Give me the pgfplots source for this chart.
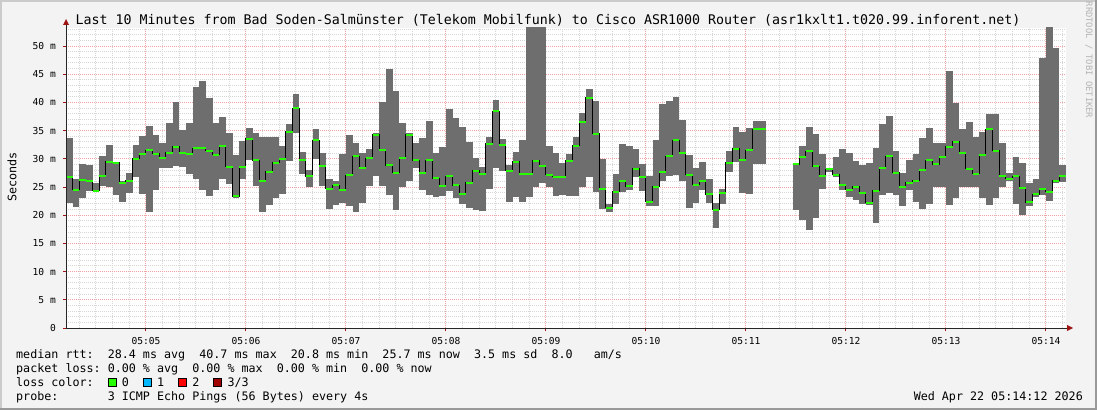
\documentclass[border=0pt]{standalone}
\usepackage{fontspec}
\setmainfont{DejaVu Sans Mono}
\setmonofont{DejaVu Sans Mono}
\usepackage{pgfplots}
\pgfplotsset{compat=1.18}
\usepackage{pgfplotstable}

\definecolor{back}{HTML}{F3F3F3}
\definecolor{shadea}{HTML}{CBCBCB}
\definecolor{shadeb}{HTML}{999999}
\definecolor{smoke}{HTML}{6E6E6E}
\definecolor{lossgreen}{HTML}{26FF00}
\definecolor{lossblue}{HTML}{00B8FF}
\definecolor{lossred}{HTML}{FF0000}
\definecolor{lossdark}{HTML}{A10000}
\definecolor{mingrid}{HTML}{D6D6D6}
\definecolor{majgrid}{HTML}{F0A4A4}
\definecolor{arrowcol}{HTML}{A01414}
\definecolor{wmark}{HTML}{B4B4B4}

% one row per 4 s step, t = seconds after 05:04:12 (bar centre), values in ms
\pgfplotstableread{
t lo hi med
2 22.14 33.65 26.80
6 21.49 26.39 24.50
10 22.97 29.05 26.27
14 24.33 28.87 26.10
18 24.15 25.68 24.33
22 25.21 30.46 26.92
26 25.03 32.41 29.46
30 23.62 29.52 29.34
34 22.38 26.10 25.74
38 23.97 27.45 26.10
42 26.80 32.41 29.99
46 23.85 34.01 30.88
50 20.61 35.78 31.53
54 24.50 34.18 30.88
58 28.34 32.77 30.17
62 28.46 36.31 31.05
66 28.75 40.03 32.12
70 28.57 35.07 31.05
74 27.28 36.31 30.88
78 26.51 42.74 31.88
82 24.50 43.75 31.88
86 23.44 40.74 31.41
90 24.50 36.31 30.70
94 26.39 37.37 32.29
98 25.56 34.54 28.57
102 23.08 30.64 23.32
106 26.39 33.18 28.57
110 29.82 35.42 33.53
114 25.21 34.60 29.76
118 20.61 33.89 26.10
122 21.85 33.89 27.69
126 23.08 33.89 29.34
130 23.85 32.24 29.93
134 29.64 36.13 34.77
138 34.60 41.50 38.96
142 27.28 31.17 29.76
146 25.03 28.04 26.92
150 29.93 35.25 33.30
154 25.21 31.00 28.69
158 21.14 26.45 24.68
162 21.85 26.10 25.33
166 22.08 30.82 24.50
170 21.67 34.18 27.10
174 20.61 32.77 30.46
178 22.08 31.00 28.34
182 25.21 31.70 30.11
186 26.98 34.54 34.24
190 25.21 40.03 31.53
194 23.62 45.87 28.87
198 20.96 42.03 27.51
202 25.03 36.43 30.17
206 26.10 34.54 34.24
210 28.46 32.88 29.76
214 24.50 33.65 27.51
218 23.62 36.66 29.76
222 23.26 31.00 26.57
226 23.44 32.06 25.15
230 24.21 38.79 26.92
234 22.97 37.19 25.33
238 21.96 35.60 23.73
242 21.32 32.94 25.74
246 20.96 30.23 27.87
250 20.78 28.63 27.28
254 24.68 33.83 32.65
258 28.46 40.38 38.43
262 27.87 33.47 32.47
266 22.38 28.87 27.87
270 23.26 31.17 29.46
274 22.38 33.30 27.28
278 23.26 60 27.28
282 24.92 60 29.64
286 25.74 60 28.69
290 25.03 32.24 27.16
294 23.44 31.00 26.80
298 23.62 29.22 26.80
302 23.44 30.82 29.64
306 23.44 33.89 32.29
310 25.03 38.14 36.48
314 26.80 42.33 40.80
318 24.15 40.20 34.42
322 21.14 29.99 24.68
326 20.61 22.02 21.31
330 22.02 27.28 24.15
334 24.15 32.59 26.10
338 24.50 32.24 25.15
342 26.80 31.70 28.22
346 24.33 29.05 26.80
350 21.67 26.98 22.38
354 21.67 33.30 25.03
358 26.10 39.67 27.69
362 26.98 40.26 30.46
366 27.16 40.91 33.30
370 26.10 36.84 31.05
374 21.31 30.64 27.16
378 22.20 28.46 25.39
382 24.50 29.46 26.10
386 22.20 26.39 23.73
390 17.77 22.20 20.96
394 22.02 24.68 23.97
398 27.69 31.35 29.34
402 29.46 35.60 31.76
406 23.91 34.77 29.76
410 23.79 35.48 31.53
414 29.05 36.66 35.25
418 29.05 36.66 35.25
422 nan nan nan
426 nan nan nan
430 nan nan nan
434 nan nan nan
438 20.96 29.34 29.05
442 19.19 32.29 30.29
446 17.42 35.60 31.35
450 19.54 34.36 28.69
454 24.68 30.82 26.92
458 27.75 28.46 28.16
462 26.69 30.41 27.16
466 24.50 31.70 25.39
470 23.26 31.00 24.50
474 22.73 29.64 25.03
478 22.02 28.93 23.97
482 21.90 29.22 22.20
486 18.66 31.88 24.33
490 23.62 36.13 28.34
494 23.97 37.55 30.46
498 23.62 31.35 27.51
502 21.67 27.45 25.03
506 24.50 29.76 25.74
510 22.38 30.82 26.10
514 21.14 33.65 28.04
518 22.02 35.42 29.76
522 25.03 32.77 29.05
526 25.03 32.77 30.35
530 21.85 45.52 32.12
534 23.08 39.85 33.00
538 25.03 35.25 31.05
542 25.03 36.48 28.22
546 25.03 33.83 27.34
550 23.08 34.77 30.70
554 21.85 37.90 35.25
558 23.08 37.90 31.41
562 24.92 32.77 26.92
566 25.98 27.57 26.45
570 22.02 30.29 26.92
574 20.07 29.22 24.86
578 21.67 25.80 22.32
582 23.26 26.39 23.73
586 23.62 47.82 24.68
590 22.55 60 24.15
594 25.74 49.59 26.10
598 25.92 28.87 26.92
}\rtt

\begin{document}
\frenchspacing
\begin{tikzpicture}
\begin{scope}[x=1bp,y=1bp]
\useasboundingbox (0,0) rectangle (1097,410);
\fill[back] (0,0) rectangle (1097,410);
\draw[shadea, line width=2bp] (1,0) -- (1,409) -- (1097,409);
\draw[shadeb, line width=2bp] (0,1) -- (1096,1) -- (1096,410);
\end{scope}

\begin{axis}[
  at={(66bp,82bp)}, anchor=south west,
  scale only axis, width=1000bp, height=300bp,
  xmin=0, xmax=600, ymin=0, ymax=53.2,
  axis background/.style={fill=white},
  axis line style={draw=none},
  tick pos=left, tick align=outside,
  major tick length=3bp, minor tick length=0pt,
  tick style={draw=arrowcol, line width=1bp},
  xtick={48,108,...,588},
  xticklabels={05:05,05:06,05:07,05:08,05:09,05:10,05:11,05:12,05:13,05:14},
  minor xtick={8,18,...,598},
  ytick={0,5,...,50},
  yticklabels={0,5 m,10 m,15 m,20 m,25 m,30 m,35 m,40 m,45 m,50 m},
  minor ytick={1,2,...,53},
  grid=both,
  major grid style={draw=majgrid, line width=1bp, dash pattern=on 1bp off 1bp},
  minor grid style={draw=mingrid, line width=1bp, dash pattern=on 1bp off 1bp},
  ticklabel style={font=\fontsize{9.6bp}{11bp}\selectfont, inner sep=0pt},
  xticklabel style={anchor=north, yshift=-6.5bp},
  yticklabel style={anchor=east, xshift=-7bp},
]
% smoke: min..max of the pings in each step
\addplot[only marks, mark=*, mark size=0pt, mark options={draw=none, fill=none},
  error bars/.cd, y dir=plus, y explicit, error mark=none,
  error bar style={draw=smoke, line width=6.8bp}]
  table[x=t, y=lo, y error plus expr=\thisrow{hi}-\thisrow{lo}] {\rtt};
% median: black steps, green level marks
\addplot[black, line width=1bp, const plot mark mid, unbounded coords=jump, mark=none]
  table[x=t, y=med] {\rtt};
\addplot[only marks, mark=-, mark size=3.33bp,
  mark options={draw=lossgreen, line width=2bp}]
  table[x=t, y=med] {\rtt};
\end{axis}

\begin{scope}[x=1bp,y=1bp]
% axes with arrow heads
\draw[black!85, line width=1bp] (66,82) -- (66,386);
\fill[arrowcol] (63,385) -- (69,385) -- (66,391) -- cycle;
\draw[black!85, line width=1bp] (66,82) -- (1068,82);
\fill[arrowcol] (1067,79) -- (1067,85) -- (1073,82) -- cycle;

\node[anchor=base, inner sep=0pt, font=\fontsize{13.3bp}{16bp}\selectfont]
  at (548,386) {Last 10 Minutes from Bad Soden-Salmünster (Telekom Mobilfunk) to Cisco ASR1000 Router (asr1kxlt1.t020.99.inforent.net)};
\node[rotate=90, inner sep=0pt, font=\fontsize{11.7bp}{14bp}\selectfont]
  at (12,233) {Seconds};
\node[rotate=-90, inner sep=0pt, text=wmark, font=\fontsize{8.8bp}{10bp}\selectfont]
  at (1089,350) {RRDTOOL / TOBI OETIKER};

\begin{scope}[every node/.style={anchor=base west, inner sep=0pt, font=\fontsize{11.7bp}{14bp}\selectfont}]
\node at (16,52) {median rtt:~~28.4 ms avg~~40.7 ms max~~20.8 ms min~~25.7 ms now~~3.5 ms sd~~8.0~~~am/s};
\node at (16,38) {packet loss: 0.00 \% avg~~0.00 \% max~~0.00 \% min~~0.00 \% now};
\node at (16,24) {loss color:~~~~0~~~~1~~~~2~~~~3/3};
\node at (16,10) {probe:~~~~~~~3 ICMP Echo Pings (56 Bytes) every 4s};
\end{scope}
\draw[black, fill=lossgreen, line width=0.8bp] (108,24) rectangle (116,32);
\draw[black, fill=lossblue, line width=0.8bp] (143,24) rectangle (151,32);
\draw[black, fill=lossred, line width=0.8bp] (178,24) rectangle (186,32);
\draw[black, fill=lossdark, line width=0.8bp] (213,24) rectangle (221,32);
\node[anchor=base east, inner sep=0pt, font=\fontsize{11.7bp}{14bp}\selectfont]
  at (1083,10) {Wed Apr 22 05:14:12 2026};
\end{scope}
\end{tikzpicture}
\end{document}
